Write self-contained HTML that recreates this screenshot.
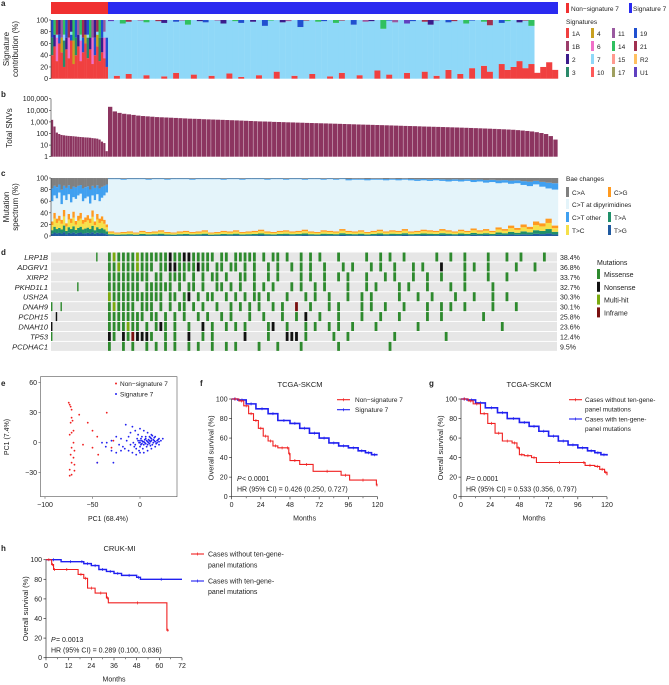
<!DOCTYPE html>
<html><head><meta charset="utf-8"><style>
body{margin:0;background:#fff}
svg{display:block;font-family:"Liberation Sans",sans-serif}
text{fill:#222}
</style></head><body>
<svg id="fig" width="669" height="685" viewBox="0 0 669 685"></svg>
<script>
// ---------------- DATA ----------------
const nonSigCount = 24;
const snvs = [1500,400,120,90,75,70,65,62,60,58,55,52,50,48,46,45,43,40,38,36,30,20,15,3,
20000,8000,6000,5000,4500,4000,3500,3200,3000,2800,2600,2500,2400,2300,2200,2100,2000,1900,1850,1800,1700,1650,1600,1550,1500,1450,1400,1350,1300,1250,1200,1150,1100,1080,1050,1000,980,950,920,900,870,850,820,800,780,760,740,720,700,680,660,640,620,600,585,570,555,540,525,510,495,480,465,450,440,430,415,400,390,380,370,360,350,340,330,320,310,300,290,280,270,260,250,240,230,220,210,195,180,165,150,130,110,90,60,30];
const aRed = [40,55,30,60,45,20,50,35,65,25,40,55,30,45,60,35,50,25,40,55,30,45,35,20,
0,5,0,8,0,0,6,0,0,4,0,10,0,0,7,0,0,5,0,0,9,0,3,0,0,6,0,0,12,0,0,5,0,0,8,0,0,4,0,10,0,0,6,0,0,14,0,7,0,0,10,0,0,12,0,5,0,15,0,8,0,18,0,22,12,0,25,15,20,30,18,25,10,20,28,15];
const aMid = [30,20,40,15,25,45,20,35,10,40,30,20,35,25,15,35,20,45,30,20,40,25,35,50,
0,0,0,0,0,0,0,0,0,0,0,0,0,0,0,0,0,0,0,0,0,0,0,0,0,0,0,0,0,0,0,0,0,0,0,0,0,0,0,0,0,0,0,0,0,0,0,0,0,0,0,0,0,0,0,0,0,0,0,0,0,0,0,0,0,0,0,0,0,0,0,0,0,0,0,0];
const aTop = [30,25,25,25,30,25,30,30,20,35,30,25,25,30,25,25,30,30,30,20,30,30,20,0,
2,0,6,3,0,1,4,0,2,5,0,3,1,8,0,2,4,0,1,6,0,2,5,0,3,0,10,1,0,4,2,0,12,1,0,3,2,0,5,1,0,8,0,3,2,0,15,1,4,0,6,2,0,3,8,1,0,4,2,0,6,1,0,3,9,0,5,2,0,4,1,10];
const aMidCat = "cdpbgcdpbgcdpbgcdpbgcdpb";
const aTopCat = "bgrdpgbrdgbpgrdbgpdrgbpdk";
const mutLow = [25,40,30,35,28,45,22,38,30,42,26,35,40,28,32,36,30,44,25,38,30,34,28,20,
8,6,7,8,6,9,7,8,10,7,6,8,9,7,8,10,6,7,9,8,10,7,8,9,11,8,7,9,10,8,9,11,8,7,10,9,8,12,9,8,10,7,9,11,8,10,9,12,8,9,11,10,9,12,10,8,11,9,13,10,12,9,15,12,18,14,20,16,25,22,30,18];
const mutHigh = [40,30,35,25,45,30,38,28,42,33,36,30,27,40,35,32,44,30,38,28,40,34,30,25,
2,2,3,2,2,2,3,2,2,3,2,2,2,3,2,2,2,2,3,2,2,3,2,2,2,3,2,2,3,2,2,3,2,2,3,2,3,2,4,3,3,4,3,3,4,3,4,3,4,5,4,5,4,5,6,5,6,5,7,6,8,7,9,8,10,9,12,14,11,15,18,20,16,24,26,30];
const genes = ["LRP1B","ADGRV1","XIRP2","PKHD1L1","USH2A","DNAH9","PCDH15","DNAH10","TP53","PCDHAC1"];
const genePct = ["38.4%","36.8%","33.7%","32.7%","30.3%","30.1%","25.8%","23.6%","12.4%","9.5%"];
const mutMatrix = [
"...................m....mhmmmmhmmmmmmnmmnnmmmmm.mm.mmmmm.m.mm.m..m.m.m...m.....m..m.m..m......m..m..m....m...m..m....m.",
"........................mmhmmmhmmm.mmnnmmmmnmm.mm.mm.m.m..m.m..m.m.m..m...m.m...m.m..m...m.m...n....m.m..m.....m...m...",
"........................mmmmmmmmm.mm.mmmm.m.m.mm.m..mm.m..m.m....m.m..m..m.m...m...m.m...m..m..m....m....m...m.........",
"...........m............mmmmmmm.mmmmmm.m.mm.m..mm.m.m..m.m.m...m.m..m.m....m...m.m....m.m...m....m..m.....m...........",
"........................hmmmmmmmmmmm.mm.mn.m.mm..m.m.m.mm.m...m...m.m..m...m..m.m.....m...m..m....m...m...m..m........",
"m...m...................mhmmmm.mmm.m.m.mm.m.m..m..m.m.m.m..m.m..i..m...m.m....m.m..m...m....m..m.m..m.....m....m.......",
"..n.....................mmmmmmmm.mm.m.m.m..m.m..m.m...m..m...m..m.n..m...m....m...m...m.....m..m........m.............",
"n.......................mmmmhmm.m.mnm.m..m..n.m..m.m.m....mn..m...m.m..m.m..m....m........m.................m.........",
"m.......................nm.nminnnm..m.m..n..m.m......n....m...nnn.m.....m..m.........m..........m......................",
"........................m..m.m..m.m.m.m..m.m..m..m.m....m...m....m.......m..........m..................................."];
const pcaRed = [[-75,40],[-74,38],[-73,36],[-72,33],[-72,25],[-71,22],[-73,20],[-64,28],[-55,20],[-50,12],[-45,6],[-35,30],[-70,12],[-72,10],[-74,8],[-70,0],[-72,-5],[-69,-8],[-73,-12],[-70,-15],[-72,-20],[-69,-22],[-74,-27],[-74,-33],[-72,-32],[-69,-28],[-45,-20],[-44,-12],[-50,-5],[-60,-2],[-30,-5],[-28,2]];
const pcaBlue = [[-40,0],[-35,0],[-30,2],[-25,6],[-20,4],[-15,18],[-10,10],[-8,16],[-5,12],[0,14],[4,12],[8,10],[12,8],[16,6],[20,4],[24,4],[-2,8],[2,6],[6,4],[10,2],[14,0],[18,0],[20,-2],[16,-4],[12,-6],[8,-8],[4,-10],[0,-10],[-4,-12],[-8,-10],[-12,-8],[-16,-6],[-20,-8],[-25,-10],[-28,-20],[-45,-20],[-18,-4],[-6,-4],[0,-4],[4,-2],[8,-2],[2,2],[-2,2],[6,6],[10,6],[-4,-6],[0,0],[3,-6],[7,-4],[-10,-2],[-14,2],[-22,-2],[-30,-8],[-36,-4],[-12,6],[-3,4],[12,4],[15,2],[5,0],[-7,0],[1,-2],[-1,-8],[9,0],[11,-3],[-5,-2],[18,2],[16,1],[14,3],[12,2],[10,-1],[8,1],[6,-1],[4,1],[2,-1],[0,2],[17,-1],[13,-2],[11,1],[9,3],[7,2],[5,3],[3,1],[1,4],[-1,0],[20,1],[22,2],[19,3],[15,5],[13,7],[11,5]];
const fRedT = [0,6,10,14,18,22,26,30,34,38,45,47,48,56,67,90,97,119,120];
const fRedS = [100,98,93,85,78,70,62,57,52,50,50,44,37,33,26,22,17,12,12];
const fBlueT = [0,5,12,20,30,38,48,56,64,72,80,88,96,104,110,115,120];
const fBlueS = [100,99,95,90,85,78,75,70,65,60,55,52,50,47,45,43,43];
const gRedT = [0,6,10,16,22,28,34,42,46,48,52,58,62,100,102,110,114,118,120];
const gRedS = [100,98,95,85,75,65,57,55,50,43,42,40,35,35,32,31,28,25,22];
const gBlueT = [0,5,12,20,30,38,48,56,64,72,80,88,96,104,110,115,120];
const gBlueS = [100,99,96,91,86,80,76,72,67,62,57,53,50,47,45,43,42];
const hRedT = [0,3,4,5,17,20,22,26,32,33,64,65];
const hRedS = [100,95,90,90,85,81,71,66,61,56,28,28];
const hBlueT = [0,8,18,20,24,28,32,36,40,48,50,72];
const hBlueS = [100,98,98,96,94,90,88,86,84,82,80,80];

// ---------------- HELPERS ----------------
const NS="http://www.w3.org/2000/svg", svg=document.getElementById('fig');
function el(tag,attrs,parent,txt){const e=document.createElementNS(NS,tag);for(const k in attrs)e.setAttribute(k,attrs[k]);if(txt!==undefined)e.textContent=txt;(parent||svg).appendChild(e);return e;}
function T(x,y,s,size,anchor,extra){return el('text',Object.assign({x:x,y:y,'font-size':size||7,'text-anchor':anchor||'start'},extra||{}),null,s);}
const sigCol={r:'#f04040',c:'#2a8a6a',d:'#3b1c8c',p:'#f070c8',b:'#2050d0',g:'#c8a020',k:'#9a5aa0',s7:'#8fd8f8'};
const topCol={b:'#2050d0',g:'#30c060',r:'#a03050',d:'#3b1c8c',p:'#9a5aa0',k:'#6040c0'};
const X0=51,X1=558,SPLIT=57;
function sx(i,n,x1){const xe=x1||X1;return i<nonSigCount? X0+i*SPLIT/nonSigCount : X0+SPLIT+(i-nonSigCount)*(xe-X0-SPLIT)/(n-nonSigCount);}
function sw(i,n,x1){const xe=x1||X1;return i<nonSigCount? SPLIT/nonSigCount : (xe-X0-SPLIT)/(n-nonSigCount);}

// ---------------- PANEL A ----------------
T(1,6,'a',8,'start',{'font-weight':'bold'});
const nA=aRed.length;
el('rect',{x:X0,y:2,width:SPLIT,height:12,fill:'#f03030'});
el('rect',{x:X0+SPLIT,y:2,width:X1-X0-SPLIT,height:12,fill:'#2a2af0'});
const ay=p=>78.7-p*(58.7/100);
for(let i=0;i<nA;i++){
  const x=sx(i,nA), w=sw(i,nA); let acc=0;
  const s7=100-aRed[i]-aMid[i]-aTop[i];
  const segs=[[aRed[i],sigCol.r],[aMid[i],sigCol[aMidCat[i%aMidCat.length]]],[s7,sigCol.s7],[aTop[i],topCol[aTopCat[i%aTopCat.length]]]];
  for(const [v,c] of segs){ if(v<=0)continue; const r=el('rect',{x:x,y:ay(acc+v),width:w+0.2,height:ay(acc)-ay(acc+v),fill:c});
      acc+=v;}
}
el('line',{x1:X0,y1:20,x2:X0,y2:78.7,stroke:'#333','stroke-width':0.6});
[0,20,40,60,80,100].forEach(v=>{el('line',{x1:X0-2,y1:ay(v),x2:X0,y2:ay(v),stroke:'#333','stroke-width':0.6});T(X0-3,ay(v)+2.5,String(v),7,'end');});
T(9,49,'Signature',8,'middle',{transform:'rotate(-90 9 49)'});
T(18,49,'contribution (%)',8,'middle',{transform:'rotate(-90 18 49)'});
el('rect',{x:566,y:3,width:3,height:10,fill:'#f03030'});T(571,11,'Non−signature 7',6.5);
el('rect',{x:629,y:3,width:3,height:10,fill:'#2a2af0'});T(633,11,'Signature 7',6.5);
T(566,24,'Signatures',6.5);
const legA=[["1A","#f04040"],["4","#c8a020"],["11","#9a5aa0"],["19","#2050d0"],["1B","#9b3d6a"],["6","#f070c8"],["14","#30c060"],["21","#a03050"],["2","#3b1c8c"],["7","#8fd8f8"],["15","#ff9a90"],["R2","#ffc060"],["3","#2a8a6a"],["10","#ff5a5a"],["17","#a0a060"],["U1","#6040c0"]];
legA.forEach((d,i)=>{const col=i%4,row=Math.floor(i/4);const x=[566,591,612,634][col];const y=28+row*13;
 el('rect',{x:x,y:y,width:3,height:10,fill:d[1]});T(x+6,y+8,d[0],6.5);});

// ---------------- PANEL B ----------------
T(1,97,'b',8,'start',{'font-weight':'bold'});
const by=v=>156.7-Math.log10(v)*(58/5);
const nB=snvs.length;
snvs.forEach((v,i)=>{const r=el('rect',{x:sx(i,nB),y:by(v),width:sw(i,nB)*0.92,height:156.7-by(v),fill:'#8c3560'});
 });
el('line',{x1:X0,y1:98.7,x2:X0,y2:156.7,stroke:'#333','stroke-width':0.6});
["1","10","100","1,000","10,000","100,000"].forEach((s,i)=>{const y=by(Math.pow(10,i));el('line',{x1:X0-2,y1:y,x2:X0,y2:y,stroke:'#333','stroke-width':0.6});T(X0-3,y+2.5,s,7,'end');});
T(12,128,'Total SNVs',8,'middle',{transform:'rotate(-90 12 128)'});

// ---------------- PANEL C ----------------
T(1,176,'c',8,'start',{'font-weight':'bold'});
const cy=p=>236-p*0.58;
const nC=mutLow.length;
for(let i=0;i<nC;i++){const x=sx(i,nC),w=sw(i,nC);const lo=mutLow[i],hi=mutHigh[i];
 const segs=[[lo*0.15,'#205aa0'],[lo*0.25,'#20906a'],[lo*0.35,'#f5e04a'],[lo*0.25,'#ff9a20'],[100-lo-hi,'#e4f4fa'],[hi*0.55,'#40a0f0'],[hi*0.45,'#808080']];
 let acc=0;segs.forEach(([v,c])=>{if(v<=0)return;const r=el('rect',{x:x,y:cy(acc+v),width:w+0.2,height:cy(acc)-cy(acc+v),fill:c});
 acc+=v;});}
el('line',{x1:X0,y1:178,x2:X0,y2:236,stroke:'#333','stroke-width':0.6});
[0,20,40,60,80,100].forEach(v=>{el('line',{x1:X0-2,y1:cy(v),x2:X0,y2:cy(v),stroke:'#333','stroke-width':0.6});T(X0-3,cy(v)+2.5,String(v),7,'end');});
T(9,207,'Mutation',8,'middle',{transform:'rotate(-90 9 207)'});
T(18,207,'spectrum (%)',8,'middle',{transform:'rotate(-90 18 207)'});
T(566,181,'Bae changes',6.5);
[[566,187,'#808080','C>A'],[608,187,'#ff9a20','C>G'],[566,199,'#e4f4fa','C>T at dipyrimidines'],[566,212,'#40a0f0','C>T other'],[608,212,'#20906a','T>A'],[566,225,'#f5e04a','T>C'],[608,225,'#205aa0','T>G']].forEach(d=>{
 el('rect',{x:d[0],y:d[1],width:3,height:10,fill:d[2]});T(d[0]+6,d[1]+8,d[3],6.5);});

// ---------------- PANEL D ----------------
T(1,255,'d',8,'start',{'font-weight':'bold'});
const mcol={m:'#2e8a2e',n:'#111',h:'#7aaa10',i:'#7a1010'};
const nD=120;
genes.forEach((gname,r)=>{const y=252.5+r*9.93;
 el('rect',{x:X0,y:y,width:557-X0,height:9,fill:'#e6e6e6'});
 const s=mutMatrix[r];
 for(let i=0;i<nD;i++){const ch=s[i];if(ch&&mcol[ch]){const m=el('rect',{x:sx(i,nD,557),y:y,width:sw(i,nD,557)*0.6,height:9,fill:mcol[ch]});
  }}
 T(48,y+7.5,gname,7.5,'end',{'font-style':'italic'});
 T(560,y+7.5,genePct[r],7);
});
T(597,265,'Mutations',7);
[['#2e8a2e','Missense'],['#111','Nonsense'],['#7aaa10','Multi-hit'],['#7a1010','Inframe']].forEach((d,i)=>{const y=269+i*12.8;
 el('rect',{x:597,y:y,width:3,height:10,fill:d[0]});T(604,y+8,d[1],7);});

// ---------------- PANEL E ----------------
T(1,386,'e',8,'start',{'font-weight':'bold'});
const ex=v=>140+v*0.95, ey=v=>442.7-v;
el('rect',{x:40.5,y:376.7,width:136.5,height:120,fill:'#fff',stroke:'#555','stroke-width':0.6});
pcaRed.forEach(p=>{const c=el('circle',{cx:ex(p[0]),cy:ey(p[1]),r:0.9,fill:'#f02020'});});
pcaBlue.forEach(p=>{const c=el('circle',{cx:ex(p[0]),cy:ey(p[1]),r:0.9,fill:'#2020f0'});});
[-30,0,30,60].forEach(v=>{T(37,ey(v)+2.5,v<0?'−'+(-v):String(v),7,'end');el('line',{x1:38.5,y1:ey(v),x2:40.5,y2:ey(v),stroke:'#555','stroke-width':0.6});});
[-100,-50,0].forEach(v=>{T(ex(v),507,v<0?'−'+(-v):String(v),7,'middle');el('line',{x1:ex(v),y1:496.7,x2:ex(v),y2:498.7,stroke:'#555','stroke-width':0.6});});
T(108,521,'PC1 (68.4%)',7,'middle');
T(9,437,'PC1 (7.4%)',7,'middle',{transform:'rotate(-90 9 437)'});
el('circle',{cx:116,cy:383.5,r:1,fill:'#f02020'});T(120,386,'Non−signature 7',6.5);
el('circle',{cx:116,cy:394,r:1,fill:'#2020f0'});T(120,396.5,'Signature 7',6.5);

// ---------------- KM helper ----------------
function km(x0,x1,xmax,y0,y1,tArr,sArr,color,name,wd){
 const kx=t=>x0+t*(x1-x0)/xmax, ky=s=>y0-s*(y0-y1)/100;
 let d='M'+kx(tArr[0])+','+ky(sArr[0]);
 for(let i=1;i<tArr.length;i++){d+=' H'+kx(tArr[i])+' V'+ky(sArr[i]);}
 const p=el('path',{d:d,fill:'none',stroke:color,'stroke-width':wd||1.1});
 
 for(let i=1;i<tArr.length;i++){const xm=(kx(tArr[i-1])+kx(tArr[i]))/2;el('line',{x1:xm,y1:ky(sArr[i-1])-1.5,x2:xm,y2:ky(sArr[i-1])+1.5,stroke:color,'stroke-width':0.7});}
}
function kmAxes(x0,x1,xmax,step,y0,y1){
 el('line',{x1:x0,y1:y1,x2:x0,y2:y0,stroke:'#333','stroke-width':0.7});
 el('line',{x1:x0,y1:y0,x2:x1,y2:y0,stroke:'#333','stroke-width':0.7});
 [0,20,40,60,80,100].forEach(v=>{const y=y0-v*(y0-y1)/100;el('line',{x1:x0-2.5,y1:y,x2:x0,y2:y,stroke:'#333','stroke-width':0.7});T(x0-4,y+2.5,String(v),7,'end');});
 for(let t=0;t<=xmax;t+=step){const x=x0+t*(x1-x0)/xmax;el('line',{x1:x,y1:y0,x2:x,y2:y0+2.5,stroke:'#333','stroke-width':0.7});T(x,y0+10.5,String(t),7,'middle');}
 for(let t=step/2;t<xmax;t+=step){const x=x0+t*(x1-x0)/xmax;el('line',{x1:x,y1:y0,x2:x,y2:y0+1.5,stroke:'#333','stroke-width':0.6});}
 T((x0+x1)/2,y0+24,'Months',7,'middle');
 T(x0-18,(y0+y1)/2,'Overall survival (%)',7.5,'middle',{transform:'rotate(-90 '+(x0-18)+' '+((y0+y1)/2)+')'});
}
function legLine(x,y,color){el('line',{x1:x,y1:y,x2:x+13,y2:y,stroke:color,'stroke-width':1.1});el('line',{x1:x+6.5,y1:y-1.5,x2:x+6.5,y2:y+1.5,stroke:color,'stroke-width':0.7});}

// ---------------- PANEL F ----------------
T(200,386,'f',8,'start',{'font-weight':'bold'});
T(300,387,'TCGA-SKCM',7.5,'middle');
kmAxes(231.6,377.6,120,24,496.7,399);
km(231.6,377.6,120,496.7,399,fBlueT,fBlueS,'#2020f0','km-signature7',1.6);
km(231.6,377.6,120,496.7,399,fRedT,fRedS,'#f02020','km-nonsignature7');
legLine(337,399.7,'#f02020');T(355,402,'Non−signature 7',6.5);
legLine(337,409.7,'#2020f0');T(355,412,'Signature 7',6.5);
T(237,481,'P',7,'start',{'font-style':'italic'});T(242,481,' < 0.0001',7);
T(237,491.5,'HR (95% CI) = 0.426 (0.250, 0.727)',7);

// ---------------- PANEL G ----------------
T(429,386,'g',8,'start',{'font-weight':'bold'});
T(529,387,'TCGA-SKCM',7.5,'middle');
kmAxes(461,607,120,24,496.7,399);
km(461,607,120,496.7,399,gBlueT,gBlueS,'#2020f0','km-with-mutations',1.6);
km(461,607,120,496.7,399,gRedT,gRedS,'#f02020','km-without-mutations');
legLine(569,399.7,'#f02020');T(585,402,'Cases without ten-gene-',6.5);T(585,411.5,'panel mutations',6.5);
legLine(569,419,'#2020f0');T(585,421.5,'Cases with ten-gene-',6.5);T(585,431,'panel mutations',6.5);
T(466,481,'P',7,'start',{'font-style':'italic'});T(471,481,' = 0.0001',7);
T(466,491.5,'HR (95% CI) = 0.533 (0.356, 0.797)',7);

// ---------------- PANEL H ----------------
T(1,551,'h',8,'start',{'font-weight':'bold'});
T(119.5,551,'CRUK-MI',7.5,'middle');
kmAxes(46,182,72,12,657.7,559.7);
km(46,182,72,657.7,559.7,hBlueT,hBlueS,'#2020f0','km-cruk-with',1.4);
km(46,182,72,657.7,559.7,hRedT,hRedS,'#f02020','km-cruk-without');
legLine(191,554,'#f02020');T(208,556.5,'Cases without ten-gene-',7);T(208,567.5,'panel mutations',7);
legLine(191,581,'#2020f0');T(208,583.5,'Cases with ten-gene-',7);T(208,594,'panel mutations',7);
T(51,642,'P',7,'start',{'font-style':'italic'});T(56,642,' = 0.0013',7);
T(51,652.5,'HR (95% CI) = 0.289 (0.100, 0.836)',7);
</script>
</body></html>
